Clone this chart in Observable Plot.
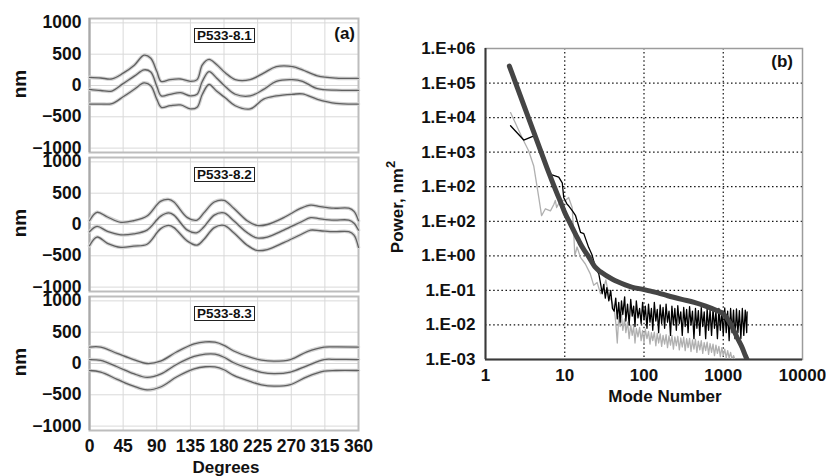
<!DOCTYPE html>
<html><head><meta charset="utf-8">
<script src="https://cdn.jsdelivr.net/npm/d3@7"></script>
<script src="https://cdn.jsdelivr.net/npm/@observablehq/plot@0.6"></script>
<style>
body{margin:0;background:#fff;}
#root{position:relative;width:826px;height:476px;overflow:hidden;background:#fff;font-family:"Liberation Sans",Arial,sans-serif;font-weight:bold;color:#111;}
.t{position:absolute;white-space:nowrap;}
.box{position:absolute;border:1px solid #222;background:#fff;font-size:13.5px;line-height:13px;padding:0 2px;white-space:nowrap;}
.rot{position:absolute;transform:translate(-50%,-50%) rotate(-90deg);white-space:nowrap;}
</style></head><body><div id="root"></div>
<script>
// ---------- panel (a) data ----------
const degTicks = [0,45,90,135,180,225,270,315,360];
const degTickLabels = ["0","45","90","135","180","225","270","315","360"];
const nmTicks = [-1000,-500,0,500,1000];
const nmTickLabels = ["\u22121000","\u2212500","0","500","1000"];
const panelNames = ["P533-8.1","P533-8.2","P533-8.3"];

const sub1Deg = [0,15,30,45,60,73,82,90,96,108,122,135,144,151,160,170,182,195,215,233,250,272,285,305,330,360];
const sub1Top = [130,120,106,197,325,484,434,226,64,94,104,67,94,328,416,335,200,94,94,198,300,301,250,155,118,114];
const sub1Mid = [-62,-80,-88,30,150,250,215,-10,-166,-140,-114,-166,-140,67,223,120,-20,-140,-166,-62,67,94,67,-50,-75,-78];
const sub1Bot = [-296,-296,-290,-180,-60,42,-5,-218,-348,-323,-310,-374,-348,-140,16,-88,-200,-323,-374,-218,-166,-140,-135,-220,-285,-296];

const sub2Deg = [0,10,24,42,59,77,95,106,113,131,144,153,167,180,193,211,224,238,260,283,296,309,327,347,354,360];
const sub2Top = [60,195,120,35,60,135,370,400,360,110,70,185,360,385,260,60,-15,0,110,260,310,285,260,260,210,60];
const sub2Mid = [-115,-30,-110,-165,-150,-90,130,185,150,-90,-130,-40,150,185,60,-130,-215,-200,-90,40,110,90,70,70,20,-90];
const sub2Bot = [-340,-200,-300,-365,-345,-315,-70,-15,-50,-265,-330,-240,-50,-15,-130,-330,-415,-400,-290,-160,-90,-100,-115,-115,-170,-365];

const sub3Deg = [0,15,37,59,77,95,117,140,155,168,180,193,215,230,247,269,291,314,330,360];
const sub3Top = [262,262,162,63,0,37,187,312,345,340,290,200,100,55,37,63,187,262,265,262];
const sub3Mid = [63,50,-52,-162,-222,-170,-12,112,150,150,100,12,-87,-140,-162,-137,-37,63,65,63];
const sub3Bot = [-112,-137,-252,-362,-422,-375,-212,-87,-52,-55,-100,-190,-287,-340,-362,-337,-212,-122,-112,-112];

// ---------- panel (b) data ----------
const modeTicks = [1,10,100,1000,10000];
const modeTickLabels = ["1","10","100","1000","10000"];
const powerTicks = [1e-3,1e-2,1e-1,1,1e1,1e2,1e3,1e4,1e5,1e6];
const powerTickLabels = ["1.E-03","1.E-02","1.E-01","1.E+00","1.E+02","1.E+02","1.E+03","1.E+04","1.E+05","1.E+06"];

const modelX = [2,3,4,5,6,7,8,9,10,12,14,15,16,18,20,24.4,28,40,58,70,100,150,200,300,430,600,800,1000,1230,1490,1720,1900,2000];
const modelY = [3.1e5,2.5e4,4200,1050,340,135,63,33,18,7.7,3.8,2.8,2.1,1.35,0.95,0.46,0.35,0.21,0.145,0.125,0.105,0.085,0.07,0.055,0.045,0.035,0.027,0.021,0.011,0.0044,0.0023,0.0013,0.001];

const blackX = [2.07,3.04,3.88,4.2,5,5.8,6.4,6.9,8.4,9.3,9.7,10.7,11.2,12.5,13.7,15.8,17.4,20,22,24.4,26.9,28.3,29.7,31,32.5,34,36,38,40,
42,44,46,48,50,52,54,57,59,62,65,68,71,74,77,80,84,88,92,96,100,104,109,114,119,124,129,135,141,147,153,160,167,174,182,190,198,207,216,225,235,245,256,267,279,291,304,317,331,345,360,376,392,409,427,446,465,485,506,528,551,575,600,626,653,682,712,743,775,809,844,881,919,959,1001,1044,1090,1137,1187,1238,1292,1348,1407,1468,1532,1599,1668,1741,1816,1895,1977,2000];
const blackY = [5800,2240,2800,2900,1000,420,250,220,190,130,49,31,28,20,14.5,4.8,4.4,1.76,1.1,0.46,0.3,0.16,0.08,0.15,0.06,0.12,0.05,0.1,0.03,
0.025,0.06,0.015,0.045,0.012,0.05,0.02,0.065,0.013,0.04,
0.01,0.055,0.018,0.035,0.009,0.05,0.016,0.03,0.011,0.045,
0.014,0.035,0.008,0.04,0.012,0.03,0.007,0.045,0.013,0.028,
0.006,0.038,0.011,0.032,0.008,0.04,0.012,0.025,0.005,0.035,
0.01,0.03,0.007,0.036,0.011,0.024,0.005,0.032,0.009,0.028,
0.006,0.034,0.01,0.025,0.004,0.03,0.008,0.026,0.005,0.032,
0.009,0.024,0.004,0.03,0.007,0.027,0.005,0.029,0.008,0.025,
0.004,0.03,0.007,0.026,0.005,0.031,0.006,0.025,0.0035,0.03,
0.006,0.027,0.004,0.029,0.006,0.026,0.004,0.03,0.005,0.027,
0.006,0.024];

const grayX = [2.07,2.9,3.5,4.06,4.7,5.1,5.7,6.6,7.3,7.6,7.9,8.8,10.2,11.2,12.4,13,13.4,14.3,15.8,18.2,21,23.2,25.6,28.3,31,33,36,39,
42,44,46,48,50,52,54,57,59,62,65,68,71,74,77,80,84,88,92,96,100,104,109,114,119,124,129,135,141,147,153,160,167,174,182,190,198,207,216,225,235,245,256,267,279,291,304,317,331,345,360,376,392,409,427,446,465,485,506,528,551,575,600,626,653,682,712,743,775,809,844,881,919,959,1001,1044,1090,1137,1187,1238,1292,1348,1400];
const grayY = [1.4e4,2600,1100,400,49,14.5,23,20,31,40,25,40,40,49,25,4.4,1,1.8,0.9,0.58,0.3,0.14,0.17,0.08,0.12,0.2,0.07,0.05,
0.03,0.012,0.003,0.018,0.009,0.02,0.007,0.015,0.006,0.012,
0.004,0.01,0.005,0.009,0.003,0.008,0.0045,0.0085,0.0035,0.007,
0.003,0.0075,0.004,0.0065,0.0028,0.006,0.0035,0.0062,0.0025,0.0058,
0.003,0.0055,0.0024,0.005,0.0028,0.0052,0.0022,0.0048,0.0026,0.005,
0.002,0.0045,0.0025,0.0047,0.0019,0.0042,0.0023,0.0044,0.0018,0.004,
0.0022,0.0041,0.0017,0.0037,0.002,0.0038,0.0016,0.0034,0.0019,0.0035,
0.0015,0.0031,0.0018,0.0032,0.0014,0.0029,0.0016,0.0028,0.0013,0.0026,
0.0015,0.0024,0.0012,0.0022,0.0013,0.002,0.0011,0.0018,0.0011,0.0016,
0.001,0.0013,0.001];

// ---------- rendering ----------
const root = document.getElementById("root");
function place(el, left, top) {
  el.style.position = "absolute";
  el.style.left = left + "px";
  el.style.top = top + "px";
  root.appendChild(el);
  return el;
}
function textDiv(html, cls, css) {
  const d = document.createElement("div");
  d.className = cls;
  d.innerHTML = html;
  Object.assign(d.style, css);
  root.appendChild(d);
  return d;
}
const baseStyle = {fontFamily: "Liberation Sans, Arial, sans-serif", fontSize: "17px", fontWeight: "bold", color: "#111", background: "transparent", overflow: "visible"};
const nmLabel = new Map(nmTicks.map((t, i) => [t, nmTickLabels[i]]));
const degLabel = new Map(degTicks.map((t, i) => [t, degTickLabels[i]]));

const subs = [
  {deg: sub1Deg, lines: [sub1Top, sub1Mid, sub1Bot], top: 18},
  {deg: sub2Deg, lines: [sub2Top, sub2Mid, sub2Bot], top: 157},
  {deg: sub3Deg, lines: [sub3Top, sub3Mid, sub3Bot], top: 296}
];
subs.forEach((s, k) => {
  const last = k === subs.length - 1;
  const rows = [];
  s.lines.forEach((arr, j) => arr.forEach((v, i) => rows.push({deg: s.deg[i], nm: v, line: j})));
  const marks = [
    Plot.gridX(degTicks, {stroke: "#d9d9d9", strokeOpacity: 1}),
    Plot.gridY(nmTicks, {stroke: "#d9d9d9", strokeOpacity: 1}),
    Plot.frame({stroke: "#bdbdbd", strokeWidth: 2}),
    Plot.ruleX([0], {stroke: "#a9a9a9", strokeWidth: 2}),
    Plot.line(rows, {x: "deg", y: "nm", z: "line", stroke: "#d2d2d2", strokeWidth: 3.6, curve: "catmull-rom"}),
    Plot.line(rows, {x: "deg", y: "nm", z: "line", stroke: "#606060", strokeWidth: 1.3, curve: "catmull-rom"}),
    Plot.axisY(nmTicks, {tickSize: 0, tickPadding: 8, fontSize: 17.5, label: null, tickFormat: d => nmLabel.get(d)})
  ];
  if (last) marks.push(Plot.axisX(degTicks, {tickSize: 0, tickPadding: 9, fontSize: 17.5, label: null, tickFormat: d => degLabel.get(d)}));
  const p = Plot.plot({
    width: 370, height: last ? 190 : 146,
    marginLeft: 89, marginRight: 12, marginTop: 10, marginBottom: last ? 46 : 2,
    x: last ? {domain: [0, 360], label: null} : {domain: [0, 360], axis: null, label: null},
    y: {domain: [-1070, 1070], label: null},
    style: baseStyle,
    marks
  });
  place(p, 0, s.top - 10);
  textDiv(panelNames[k], "box", {left: "194px", top: (s.top + 10) + "px"});
  textDiv("nm", "rot", {left: "20px", top: (s.top + 66) + "px", fontSize: "19px"});
});
textDiv("(a)", "t", {left: "300px", width: "55px", textAlign: "right", top: "25px", fontSize: "17px", lineHeight: "17px"});
textDiv("Degrees", "t", {left: "166px", width: "120px", textAlign: "center", top: "459px", fontSize: "17px", lineHeight: "17px"});

// panel (b)
const powerLabel = new Map(powerTicks.map((t, i) => [Math.round(Math.log10(t)), powerTickLabels[i]]));
const modeLabel = new Map(modeTicks.map((t, i) => [Math.round(Math.log10(t)), modeTickLabels[i]]));
const modelRows = modelX.map((x, i) => ({x, y: modelY[i]}));
const blackRows = blackX.map((x, i) => ({x, y: blackY[i]}));
const grayRows = grayX.map((x, i) => ({x, y: grayY[i]}));
const dotted = {stroke: "#111", strokeOpacity: 1, strokeWidth: 1.2, strokeDasharray: "1.5,2.6"};
const pb = Plot.plot({
  width: 446, height: 380,
  marginLeft: 105, marginRight: 24, marginTop: 18, marginBottom: 51,
  x: {type: "log", domain: [1, 10000], label: null},
  y: {type: "log", domain: [1e-3, 1e6], label: null},
  style: baseStyle,
  marks: [
    Plot.gridX(modeTicks.slice(1, -1), dotted),
    Plot.gridY(powerTicks.slice(1, -1), dotted),
    Plot.frame({stroke: "#9c9c9c", strokeWidth: 1.5}),
    Plot.ruleX([1], {stroke: "#3a3a3a", strokeWidth: 2}),
    Plot.ruleY([1e-3], {stroke: "#3a3a3a", strokeWidth: 2}),
    Plot.line(grayRows, {x: "x", y: "y", stroke: "#b0b0b0", strokeWidth: 1.3, clip: true}),
    Plot.line(blackRows, {x: "x", y: "y", stroke: "#000", strokeWidth: 1.3, clip: true}),
    Plot.line(modelRows, {x: "x", y: "y", stroke: "#454545", strokeWidth: 5, curve: "catmull-rom", clip: true}),
    Plot.axisY(powerTicks, {tickSize: 0, tickPadding: 10, label: null, tickFormat: d => powerLabel.get(Math.round(Math.log10(d)))}),
    Plot.axisX(modeTicks, {tickSize: 0, tickPadding: 9, label: null, tickFormat: d => modeLabel.get(Math.round(Math.log10(d)))})
  ]
});
place(pb, 380, 30);
textDiv("(b)", "t", {left: "740px", width: "53px", textAlign: "right", top: "53px", fontSize: "17px", lineHeight: "17px"});
textDiv("Mode Number", "t", {left: "565px", width: "200px", textAlign: "center", top: "388px", fontSize: "17px", lineHeight: "17px"});
textDiv("Power, nm<sup style=\"font-size:13px;line-height:0;vertical-align:0.55em\">2</sup>", "rot", {left: "397px", top: "207px", fontSize: "17px", lineHeight: "17px"});
</script></body></html>
